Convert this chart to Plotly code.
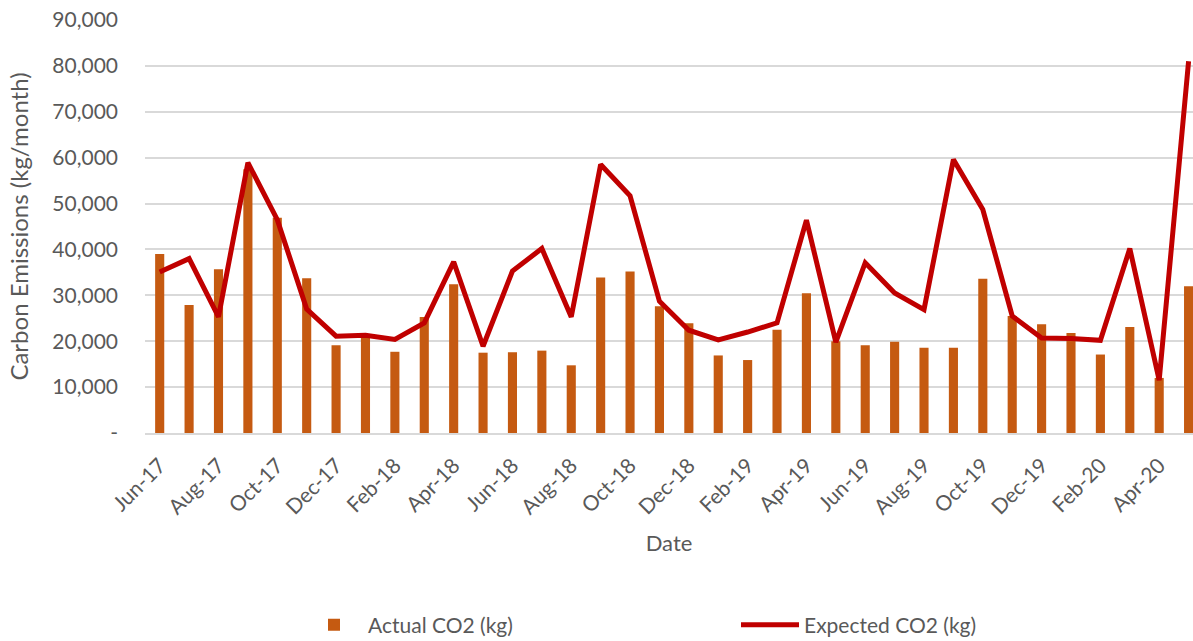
import plotly.graph_objects as go

months = ["Jun-17","Jul-17","Aug-17","Sep-17","Oct-17","Nov-17","Dec-17",
          "Jan-18","Feb-18","Mar-18","Apr-18","May-18","Jun-18","Jul-18","Aug-18","Sep-18","Oct-18","Nov-18","Dec-18",
          "Jan-19","Feb-19","Mar-19","Apr-19","May-19","Jun-19","Jul-19","Aug-19","Sep-19","Oct-19","Nov-19","Dec-19",
          "Jan-20","Feb-20","Mar-20","Apr-20","May-20"]

actual_co2 = [39000, 27900, 35700, 57500, 46900, 33700, 19100,
              20800, 17700, 25300, 32400, 17500, 17600, 17950, 14750, 33900, 35200, 27600, 23900,
              16900, 15900, 22500, 30450, 20000, 19100, 19900, 18600, 18600, 33600, 25500, 23700,
              21800, 17100, 23100, 12000, 32000]

expected_co2 = [35100, 38000, 25300, 58900, 46500, 27000, 21100,
                21300, 20400, 24000, 37300, 18900, 35300, 40200, 25300, 58500, 51700, 28700, 22400,
                20300, 22000, 24000, 46400, 19800, 37100, 30500, 26900, 59600, 48700, 25500, 20700,
                20600, 20200, 40200, 11500, 81000]

y_tickvals = [0, 10000, 20000, 30000, 40000, 50000, 60000, 70000, 80000, 90000]
y_ticktext = ["-", "10,000", "20,000", "30,000", "40,000", "50,000", "60,000", "70,000", "80,000", "90,000"]

x_tickvals = months[::2]

FONT = "Lato, 'Open Sans', sans-serif"
GREY = "#595959"

W, H = 1193, 641
ML, MR, MT, MB = 145, 0, 20, 208
PW = W - ML - MR
PH = H - MT - MB

def px_x(p):
    return (p - ML) / PW

def px_y(p):
    return (H - MB - p) / PH

fig = go.Figure()
fig.add_trace(go.Bar(
    x=months, y=actual_co2, name="Actual CO2 (kg)",
    marker=dict(color="#C55A11", line=dict(width=0)), width=0.31,
    legend="legend",
))
fig.add_trace(go.Scatter(
    x=months, y=expected_co2, name="Expected CO2 (kg)", mode="lines",
    line=dict(color="#C00000", width=5),
    legend="legend2",
))

legend_common = dict(
    orientation="h", yanchor="middle", y=px_y(625), xanchor="left",
    font=dict(size=21, color=GREY, family=FONT),
    itemwidth=58, bgcolor="rgba(0,0,0,0)", borderwidth=0,
)

fig.update_layout(
    width=W, height=H,
    margin=dict(l=ML, r=MR, t=MT, b=MB, autoexpand=False),
    paper_bgcolor="white", plot_bgcolor="white",
    font=dict(family=FONT, color=GREY, size=18),
    showlegend=True,
    legend=dict(x=px_x(300), **legend_common),
    legend2=dict(x=px_x(736), **legend_common),
    xaxis=dict(
        type="category", categoryorder="array", categoryarray=months,
        range=[-0.5, 35.15], automargin=False,
        tickmode="array", tickvals=x_tickvals, ticktext=x_tickvals,
        tickangle=-45, tickfont=dict(size=21, color=GREY),
        ticklabelstandoff=10,
        showgrid=False, showline=True, linecolor="#d9d9d9", linewidth=2,
        ticks="", zeroline=False,
        title=dict(text="Date", font=dict(size=22, color=GREY), standoff=18),
    ),
    yaxis=dict(
        range=[0, 90000], automargin=False,
        tickmode="array", tickvals=y_tickvals, ticktext=y_ticktext,
        tickfont=dict(size=21, color=GREY),
        showgrid=True, gridcolor="#d9d9d9", gridwidth=1.5,
        zeroline=False, showline=False, ticks="",
        ticklabelstandoff=26,
        title=dict(text="Carbon Emissions (kg/month)", font=dict(size=24, color=GREY), standoff=16),
    ),
)

fig.write_html(
    "out.html",
    config={"displayModeBar": False},
    post_script="document.body.style.margin='0';document.body.style.overflow='hidden';",
)
